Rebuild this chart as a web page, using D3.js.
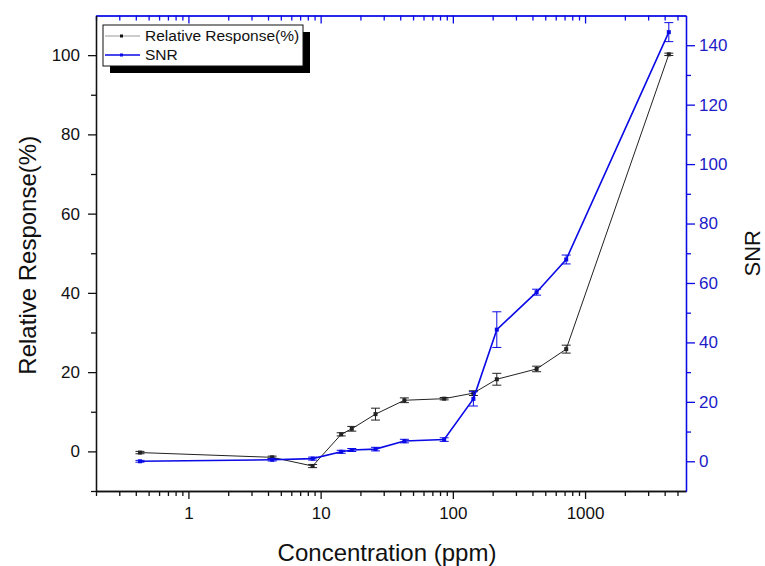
<!DOCTYPE html>
<html lang="en">
    <head>
        <meta charset="UTF-8" />
        <title>Relative Response and SNR</title>
        <script src="https://d3js.org/d3.v7.min.js"></script>
        <style>
            body { margin: 0; background: #fff; }
            text { font-family: "Liberation Sans", Arial, sans-serif; }
        </style>
    </head>
    <body>
        <div class="canvas"></div>
        <script>
            // values
            const concentration = [0.43, 4.3, 8.7, 14.3, 17.2, 26, 43, 86, 143, 215, 430, 720, 4300];
            const response = [-0.3, -1.5, -3.7, 4.3, 5.7, 9.4, 12.9, 13.3, 14.7, 18.2, 20.8, 25.8, 100.2];
            const responseErr = [0.3, 0.3, 0.4, 0.4, 0.6, 1.5, 0.6, 0.3, 0.6, 1.5, 0.7, 1.0, 0.3];
            const snr = [0, 0.5, 0.9, 3.2, 3.8, 4.1, 6.8, 7.3, 21, 44.3, 56.9, 67.9, 144.4];
            const snrErr = [0.3, 0.4, 0.5, 0.5, 0.5, 0.6, 0.6, 0.6, 2.4, 6, 1, 1.5, 3.2];

            const xMajor = [1, 10, 100, 1000];
            const leftTicks = [0, 20, 40, 60, 80, 100];
            const rightTicks = [0, 20, 40, 60, 80, 100, 120, 140];
            const seriesNames = ["Relative Response(%)", "SNR"];

            const width = 765;
            const height = 566;
            const margin = { top: 15.5, right: 79, bottom: 75, left: 96 };
            const blue = "#0a0ae6";
            const blueText = "#1c1cc8";

            const svg = d3
                .select(".canvas")
                .append("svg")
                .attr("width", width)
                .attr("height", height);

            const gw = width - margin.left - margin.right;
            const gh = height - margin.top - margin.bottom;

            const graph = svg
                .append("g")
                .attr("transform", `translate(${margin.left}, ${margin.top})`);

            const x = d3.scaleLog().domain([0.2, 5800]).range([0, gw]);
            const yL = d3.scaleLinear().domain([-10, 110]).range([gh, 0]);
            const yR = d3.scaleLinear().domain([-10, 150]).range([gh, 0]);

            // minor ticks of the log axis
            const xMinor = [];
            [0.1, 1, 10, 100, 1000].forEach((p) => {
                for (let k = 2; k <= 9; k++) {
                    const v = +(k * p).toPrecision(3);
                    if (v >= 0.2 && v <= 5800) xMinor.push(v);
                }
            });

            const styleAxis = (g, color) => {
                g.select(".domain").attr("stroke", color).attr("stroke-width", 1.3);
                g.selectAll(".tick line").attr("stroke", color).attr("stroke-width", 1.3);
                g.selectAll("text")
                    .attr("fill", color === blue ? blueText : "#111")
                    .style("font-size", "17px");
            };

            // bottom axis
            const xAxisG = graph.append("g").attr("transform", `translate(0, ${gh})`);
            xAxisG.call(d3.axisBottom(x).tickValues(xMinor).tickSize(5).tickFormat("").tickSizeOuter(0));
            styleAxis(xAxisG, "#111");
            const xAxisMajor = graph.append("g").attr("transform", `translate(0, ${gh})`);
            xAxisMajor.call(
                d3.axisBottom(x).tickValues(xMajor).tickSize(8).tickPadding(8)
                    .tickFormat(d3.format("d")).tickSizeOuter(0)
            );
            styleAxis(xAxisMajor, "#111");

            // top axis (blue, ticks inside)
            const topG = graph.append("g");
            topG.call(d3.axisBottom(x).tickValues(xMinor).tickSize(5).tickFormat("").tickSizeOuter(0));
            topG.append("g").call(d3.axisBottom(x).tickValues(xMajor).tickSize(8).tickFormat("").tickSizeOuter(0));
            styleAxis(topG, blue);
            topG.selectAll(".domain").attr("stroke", blue);
            topG.selectAll("line").attr("stroke", blue);

            // left axis
            const yLminor = graph.append("g");
            yLminor.call(d3.axisLeft(yL).tickValues([-10, 10, 30, 50, 70, 90]).tickSize(5).tickFormat("").tickSizeOuter(0));
            styleAxis(yLminor, "#111");
            const yLG = graph.append("g");
            yLG.call(d3.axisLeft(yL).tickValues(leftTicks).tickSize(8).tickPadding(8).tickSizeOuter(0));
            styleAxis(yLG, "#111");

            // right axis
            const yRminor = graph.append("g").attr("transform", `translate(${gw}, 0)`);
            yRminor.call(d3.axisRight(yR).tickValues([10, 30, 50, 70, 90, 110, 130]).tickSize(5).tickFormat("").tickSizeOuter(0));
            styleAxis(yRminor, blue);
            const yRG = graph.append("g").attr("transform", `translate(${gw}, 0)`);
            yRG.call(d3.axisRight(yR).tickValues(rightTicks).tickSize(9).tickPadding(4).tickSizeOuter(0));
            styleAxis(yRG, blue);

            // series
            const drawSeries = (vals, errs, y, color, lw) => {
                const pts = concentration.map((c, i) => ({ c: c, v: vals[i], e: errs[i] }));
                const line = d3.line().x((d) => x(d.c)).y((d) => y(d.v));
                graph.append("path")
                    .attr("fill", "none")
                    .attr("stroke", color)
                    .attr("stroke-width", lw)
                    .attr("d", line(pts));

                const eb = graph.append("g").attr("stroke", color).attr("stroke-width", 1);
                pts.forEach((d) => {
                    const cx = x(d.c);
                    const y1 = y(d.v - d.e);
                    const y2 = y(d.v + d.e);
                    eb.append("line").attr("x1", cx).attr("x2", cx).attr("y1", y1).attr("y2", y2);
                    eb.append("line").attr("x1", cx - 4.5).attr("x2", cx + 4.5).attr("y1", y1).attr("y2", y1);
                    eb.append("line").attr("x1", cx - 4.5).attr("x2", cx + 4.5).attr("y1", y2).attr("y2", y2);
                });

                graph.append("g")
                    .selectAll("rect")
                    .data(pts)
                    .enter()
                    .append("rect")
                    .attr("x", (d) => x(d.c) - 2)
                    .attr("y", (d) => y(d.v) - 2)
                    .attr("width", 4)
                    .attr("height", 4)
                    .attr("fill", color);
            };

            drawSeries(response, responseErr, yL, "#222", 1);
            drawSeries(snr, snrErr, yR, blue, 1.6);

            // legend
            const lg = svg.append("g").attr("transform", "translate(103, 25)");
            lg.append("rect").attr("x", 7).attr("y", 7).attr("width", 200).attr("height", 41).attr("fill", "#000");
            lg.append("rect").attr("width", 200).attr("height", 41).attr("fill", "#fff")
                .attr("stroke", "#111").attr("stroke-width", 1);
            const legColors = ["#bbb", blue];
            const markColors = ["#111", blue];
            seriesNames.forEach((name, i) => {
                const ly = 11 + i * 19;
                lg.append("line").attr("x1", 2).attr("x2", 37).attr("y1", ly).attr("y2", ly)
                    .attr("stroke", legColors[i]).attr("stroke-width", 1.4);
                lg.append("rect").attr("x", 17).attr("y", ly - 1.5).attr("width", 3).attr("height", 3)
                    .attr("fill", markColors[i]);
                lg.append("text").attr("x", 42).attr("y", ly).attr("dy", "0.35em")
                    .style("font-size", "15.5px").attr("fill", "#111").text(name);
            });

            // axis titles
            svg.append("text")
                .attr("x", margin.left + gw / 2 - 4)
                .attr("y", 561)
                .attr("text-anchor", "middle")
                .style("font-size", "24px")
                .attr("fill", "#111")
                .text("Concentration (ppm)");

            svg.append("text")
                .attr("transform", `translate(36, ${margin.top + gh / 2 + 2}) rotate(-90)`)
                .attr("text-anchor", "middle")
                .style("font-size", "24px")
                .attr("fill", "#111")
                .text("Relative Response(%)");

            svg.append("text")
                .attr("transform", `translate(760, ${margin.top + gh / 2}) rotate(-90)`)
                .attr("text-anchor", "middle")
                .style("font-size", "22px")
                .attr("fill", "#111")
                .text("SNR");
        </script>
    </body>
</html>
